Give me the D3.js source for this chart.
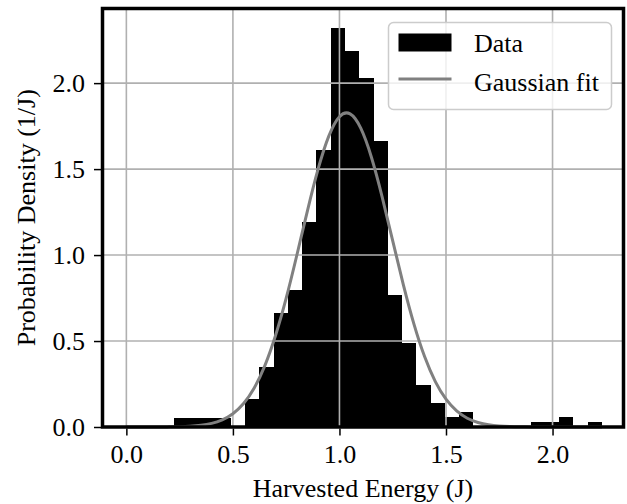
<!DOCTYPE html>
<html><head><meta charset="utf-8">
<script src="https://cdn.jsdelivr.net/npm/d3@7"></script>
<style>body{margin:0;background:#fff}svg{display:block}</style>
</head><body><svg id="c" width="627" height="504"></svg>
<script>
// Histogram bin edges (J) and densities (1/J)
const binEdges = [0.222,0.289,0.356,0.423,0.490,0.557,0.624,0.691,0.758,0.825,0.892,0.959,1.026,1.093,1.160,1.227,1.294,1.361,1.428,1.495,1.562,1.629,1.696,1.763,1.830,1.897,1.964,2.031,2.098,2.165,2.232];
const densities = [0.055,0.055,0.055,0.055,0,0.163,0.347,0.661,0.797,1.192,1.610,2.318,2.186,2.027,1.663,0.767,0.487,0.244,0.141,0.06,0.09,0,0,0,0,0.03,0.03,0.06,0,0.03];
// Gaussian fit curve
const fitX = [0,0.05,0.10,0.15,0.20,0.25,0.30,0.35,0.40,0.45,0.50,0.55,0.60,0.65,0.70,0.75,0.80,0.85,0.90,0.95,1.00,1.05,1.10,1.15,1.20,1.25,1.30,1.35,1.40,1.45,1.50,1.55,1.60,1.65,1.70,1.75,1.80,1.85,1.90,1.95,2.00,2.05,2.10,2.15,2.20,2.232];
const fitY = [0,0,0.0001,0.0003,0.0008,0.002,0.0046,0.0102,0.0212,0.0417,0.0775,0.1364,0.2269,0.3572,0.532,0.749,0.999,1.259,1.501,1.692,1.805,1.821,1.738,1.569,1.340,1.082,0.827,0.597,0.408,0.264,0.1615,0.0934,0.0511,0.0265,0.0130,0.0060,0.0026,0.0011,0.0004,0.0002,0.0001,0,0,0,0,0];
const xTicks = [0,0.5,1.0,1.5,2.0];
const yTicks = [0,0.5,1.0,1.5,2.0];
const xLabel = "Harvested Energy (J)";
const yLabel = "Probability Density (1/J)";
const legendLabels = ["Data","Gaussian fit"];

const FONT = "'Liberation Serif','Times New Roman',serif";
const FS = 26;
const L = 102.5, R = 623.5, T = 8.5, B = 427;
const svg = d3.select("#c");
const x = d3.scaleLinear().domain([-0.112, 2.333]).range([L, R]);
const y = d3.scaleLinear().domain([0, 2.434]).range([B, T]);

// bars
const bins = densities.map((d,i)=>({x0:binEdges[i], x1:binEdges[i+1], v:d}));
svg.append("g").selectAll("rect").data(bins.filter(b=>b.v>0)).join("rect")
  .attr("x", d=>x(d.x0)).attr("width", d=>x(d.x1)-x(d.x0))
  .attr("y", d=>y(d.v)).attr("height", d=>y(0)-y(d.v))
  .attr("fill", "#000").attr("shape-rendering","crispEdges");

// grid
const grid = svg.append("g").attr("stroke","#b0b0b0").attr("stroke-width",1.6);
grid.selectAll("line.gx").data(xTicks).join("line")
  .attr("x1",d=>x(d)).attr("x2",d=>x(d)).attr("y1",T).attr("y2",B);
grid.selectAll("line.gy").data(yTicks).join("line")
  .attr("y1",d=>y(d)).attr("y2",d=>y(d)).attr("x1",L).attr("x2",R);

// fit curve
const line = d3.line().x((d,i)=>x(fitX[i])).y(d=>y(d)).curve(d3.curveNatural);
svg.append("path").datum(fitY).attr("d", line)
  .attr("fill","none").attr("stroke","#808080").attr("stroke-width",3);

// axes
const xAxis = d3.axisBottom(x).tickValues(xTicks).tickFormat(d3.format(".1f")).tickSize(7).tickPadding(9);
const yAxis = d3.axisLeft(y).tickValues(yTicks).tickFormat(d3.format(".1f")).tickSize(7).tickPadding(9);
const gx = svg.append("g").attr("transform",`translate(0,${B+1.5})`).call(xAxis);
const gy = svg.append("g").attr("transform",`translate(${L-1.5},0)`).call(yAxis);
[gx,gy].forEach(g=>{
  g.select(".domain").remove();
  g.selectAll(".tick line").attr("stroke","#000").attr("stroke-width",1.5);
  g.selectAll(".tick text").attr("font-family",FONT).attr("font-size",FS).attr("fill","#000");
});

// spines
svg.append("rect").attr("x",L).attr("y",T).attr("width",R-L).attr("height",B-T)
  .attr("fill","none").attr("stroke","#000").attr("stroke-width",3.5);

// axis labels
svg.append("text").attr("x",(L+R)/2).attr("y",497).attr("text-anchor","middle")
  .attr("font-family",FONT).attr("font-size",FS).text(xLabel);
svg.append("text").attr("transform",`translate(35,${(T+B)/2}) rotate(-90)`).attr("text-anchor","middle")
  .attr("font-family",FONT).attr("font-size",FS).text(yLabel);

// legend
const lg = svg.append("g");
lg.append("rect").attr("x",388.5).attr("y",22.5).attr("width",223).attr("height",87).attr("rx",5)
  .attr("fill","#fff").attr("fill-opacity",0.8).attr("stroke","#cccccc").attr("stroke-width",1.5);
lg.append("rect").attr("x",398.5).attr("y",33.5).attr("width",53).attr("height",18).attr("fill","#000");
lg.append("line").attr("x1",398.5).attr("x2",451.5).attr("y1",79).attr("y2",79)
  .attr("stroke","#808080").attr("stroke-width",3);
lg.selectAll("text").data(legendLabels).join("text")
  .attr("x",474).attr("y",(d,i)=>i===0?51.5:90.5)
  .attr("font-family",FONT).attr("font-size",FS).text(d=>d);
</script>
</body></html>
